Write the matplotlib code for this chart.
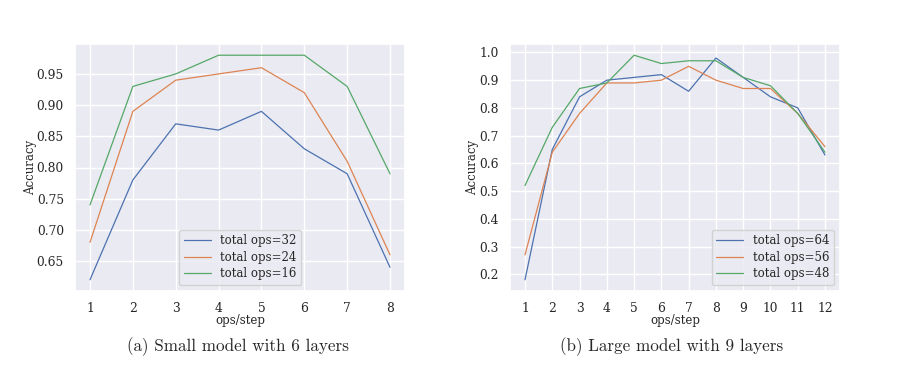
import matplotlib
matplotlib.use('Agg')
import matplotlib.pyplot as plt
import seaborn as sns

sns.set_theme(style='darkgrid')
plt.rcParams['font.family'] = ['DejaVu Serif']

# ── data ──
small_steps = [1, 2, 3, 4, 5, 6, 7, 8]
small_ops32 = [0.62, 0.78, 0.87, 0.86, 0.89, 0.83, 0.79, 0.64]
small_ops24 = [0.68, 0.89, 0.94, 0.95, 0.96, 0.92, 0.81, 0.66]
small_ops16 = [0.74, 0.93, 0.95, 0.98, 0.98, 0.98, 0.93, 0.79]
small_labels = ['total ops=32', 'total ops=24', 'total ops=16']

large_steps = [1, 2, 3, 4, 5, 6, 7, 8, 9, 10, 11, 12]
large_ops64 = [0.18, 0.65, 0.84, 0.90, 0.91, 0.92, 0.86, 0.98, 0.91, 0.84, 0.80, 0.63]
large_ops56 = [0.27, 0.64, 0.78, 0.89, 0.89, 0.90, 0.95, 0.90, 0.87, 0.87, 0.78, 0.66]
large_ops48 = [0.52, 0.73, 0.87, 0.89, 0.99, 0.96, 0.97, 0.97, 0.91, 0.88, 0.78, 0.64]
large_labels = ['total ops=64', 'total ops=56', 'total ops=48']

captions = ['(a) Small model with 6 layers', '(b) Large model with 9 layers']

COLORS = ['#4c72b0', '#dd8452', '#55a868']

fig = plt.figure(figsize=(9.04, 3.66), dpi=100)
ax1 = fig.add_axes([75 / 904, 1 - 291 / 366, 330 / 904, 247 / 366])
ax2 = fig.add_axes([510 / 904, 1 - 291 / 366, 330 / 904, 247 / 366])


def draw(ax, x, series, labels, loc):
    for ys, lab, c in zip(series, labels, COLORS):
        ax.plot(x, ys, color=c, label=lab, linewidth=0.9)
    ax.set_xticks(x)
    ax.set_xlabel('ops/step', fontsize=8.5, labelpad=-1)
    ax.set_ylabel('Accuracy', fontsize=8.5, labelpad=0)
    ax.tick_params(labelsize=8.8, pad=2)
    ax.legend(loc=loc, fontsize=8.5, handlelength=2.3, borderpad=0.4,
              labelspacing=0.3)


draw(ax1, small_steps, [small_ops32, small_ops24, small_ops16],
     small_labels, 'lower center')
draw(ax2, large_steps, [large_ops64, large_ops56, large_ops48],
     large_labels, 'lower right')

fig.text(238 / 904, 1 - 347 / 366, captions[0], ha='center', va='center',
         fontsize=12.3, family='cmr10')
fig.text(672 / 904, 1 - 347 / 366, captions[1], ha='center', va='center',
         fontsize=12.3, family='cmr10')

fig.savefig('out.png', dpi=100)
